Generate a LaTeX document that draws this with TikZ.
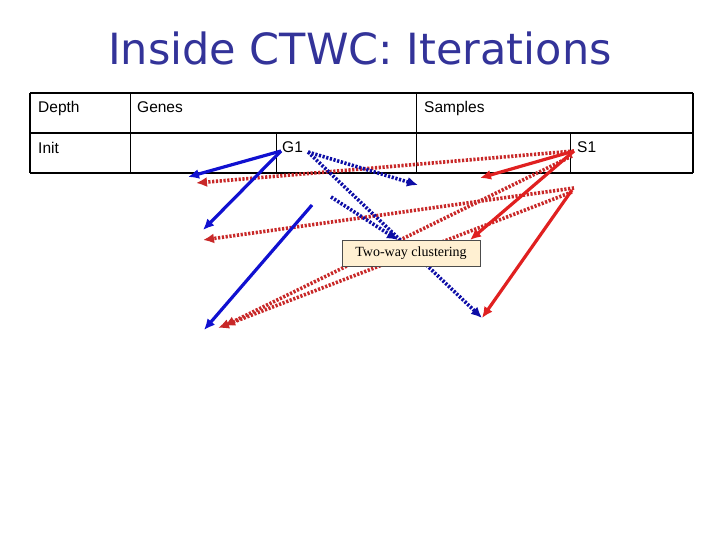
\documentclass[tikz,border=0pt]{standalone}
\usepackage{fontspec}
\setmainfont{Liberation Sans}
\newfontfamily\titlefont{DejaVu Sans}
\newfontfamily\serifb{Liberation Serif}
\usetikzlibrary{arrows.meta}
\definecolor{navy}{HTML}{333399}
\definecolor{bl}{HTML}{1010D0}
\definecolor{rd}{HTML}{E02020}
\definecolor{rdd}{HTML}{C82828}
\definecolor{beige}{HTML}{FFF0D2}
\tikzset{
 tl/.style={anchor=base west,font=\fontsize{15.5}{15}\selectfont,inner sep=0},
 bs/.style={draw=bl,line width=3.2pt,-{Latex[length=11pt,width=10pt]}},
 bd/.style={draw=bl!80!black,line width=3.6pt,dash pattern=on 2.2pt off 1.6pt,-{Latex[length=11pt,width=10pt]}},
 rs/.style={draw=rd,line width=3.2pt,-{Latex[length=11pt,width=10pt]}},
 rdt/.style={draw=rdd,line width=3.6pt,dash pattern=on 2.2pt off 1.6pt,-{Latex[length=11pt,width=10pt]}},
}
\begin{document}
\begin{tikzpicture}[x=1pt,y=-1pt]
\useasboundingbox (0,0) rectangle (720,540);
\node[font=\titlefont\fontsize{43}{45}\selectfont,text=navy] (title) at (360,48) {Inside CTWC: Iterations};
% table
\draw[line width=1.5pt] (30,93) -- (693,93);
\draw[line width=1.2pt] (30,133) -- (693,133);
\draw[line width=1.2pt] (30,173) -- (693,173);
\draw[line width=1.2pt] (30,93) -- (30,173);
\draw[line width=1.5pt] (693,93) -- (693,173);
\draw[line width=0.8pt] (130,93) -- (130,173);
\draw[line width=0.8pt] (416,93) -- (416,173);
\draw[line width=0.8pt] (276,133) -- (276,173);
\draw[line width=0.8pt] (570,133) -- (570,173);
\node[tl] (depth) at (38,113) {Depth};
\node[tl] (genes) at (137,113) {Genes};
\node[tl] (samples) at (424,113) {Samples};
\node[tl] (init) at (38,154) {Init};
\node[tl] (g1) at (282,153) {G1};
\node[tl] (s1) at (577,153) {S1};
% coordinates
\coordinate (gs) at (281,151);
\coordinate (ss) at (574,151);
\coordinate (a1) at (188,177);
\coordinate (a2) at (203,230);
\coordinate (a3s) at (312,205);
\coordinate (a3) at (204,330);
\coordinate (b1) at (418,185);
\coordinate (b2s) at (308,152);
\coordinate (b2) at (482,318);
\coordinate (b3s) at (331,197);
\coordinate (b3) at (398,240);
\coordinate (r1) at (480,178);
\coordinate (r2) at (470,240);
\coordinate (r3s) at (572,190);
\coordinate (r3) at (482,318);
\coordinate (d1) at (196,183);
\coordinate (d2s) at (574,188);
\coordinate (d2) at (203,240);
\coordinate (d3s) at (572,192);
\coordinate (d3) at (218,328);
\coordinate (d4s) at (572,156);
\coordinate (d4) at (224,326);
% red dotted
\draw[rdt] (ss) -- (d1);
\draw[rdt] (d2s) -- (d2);
\draw[rdt] (d3s) -- (d3);
\draw[rdt] (d4s) -- (d4);
% blue
\draw[bs] (gs) -- (a1);
\draw[bs] (gs) -- (a2);
\draw[bs] (a3s) -- (a3);
\draw[bd] (b2s) -- (b1);
\draw[bd] (b2s) -- (b2);
\draw[bd] (b3s) -- (b3);
% red solid
\draw[rs] (ss) -- (r1);
\draw[rs] (ss) -- (r2);
\draw[rs] (r3s) -- (r3);
\node[draw=black!70,fill=beige,line width=0.5pt,font=\serifb\fontsize{14}{14}\selectfont,minimum width=138pt,minimum height=26pt,inner sep=2pt] (call) at (411,253) {Two-way clustering};
\end{tikzpicture}
\end{document}
